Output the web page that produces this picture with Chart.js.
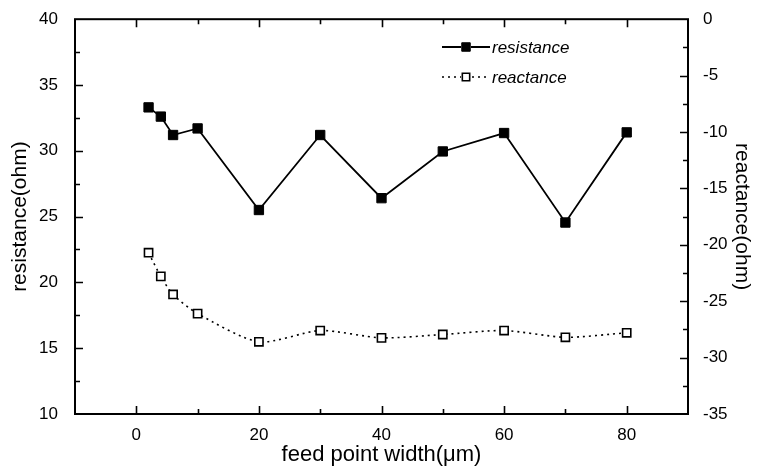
<!DOCTYPE html>
<html>
<head>
<meta charset="utf-8">
<title>resistance / reactance vs feed point width</title>
<script src="https://cdn.jsdelivr.net/npm/chart.js@4.4.1/dist/chart.umd.min.js"></script>
<style>
  html, body { margin: 0; padding: 0; background: #fff; }
  #wrap { width: 757px; height: 470px; }
</style>
</head>
<body>
<div id="wrap"><canvas id="chart" width="757" height="470"></canvas></div>
<script>
// data
const widths = [2, 4, 6, 10, 20, 30, 40, 50, 60, 70, 80];
const resistance = [33.3, 32.6, 31.2, 31.7, 25.5, 31.2, 26.4, 29.95, 31.35, 24.55, 31.4];
const reactance = [-20.7, -22.8, -24.4, -26.1, -28.6, -27.6, -28.25, -27.95, -27.6, -28.2, -27.8];

const xTicksLabeled = [0, 20, 40, 60, 80];
const leftRange = [10, 40];
const rightRange = [-35, 0];
const xRange = [-10, 90];

const FONT = "'Liberation Sans', Arial, sans-serif";

function pairs(xs, ys) {
  return xs.map((x, i) => ({ x: x, y: ys[i] }));
}

// frame + inward ticks (major and minor), drawn from the chart scales
const framePlugin = {
  id: 'frame',
  afterDraw(chart) {
    const ctx = chart.ctx;
    const a = chart.chartArea;
    const sx = chart.scales.x, sl = chart.scales.y, sr = chart.scales.y1;
    ctx.save();
    ctx.strokeStyle = '#000';
    ctx.lineWidth = 2;
    ctx.strokeRect(a.left, a.top, a.right - a.left, a.bottom - a.top);
    ctx.lineWidth = 1.6;
    ctx.beginPath();
    // x ticks every 10 on top and bottom
    for (let v = xRange[0] + 10; v < xRange[1]; v += 10) {
      const px = Math.round(sx.getPixelForValue(v)) + 0.5;
      const len = (v % 20 === 0) ? 8 : 5;
      ctx.moveTo(px, a.bottom); ctx.lineTo(px, a.bottom - len);
      ctx.moveTo(px, a.top); ctx.lineTo(px, a.top + len);
    }
    // left axis ticks every 2.5
    for (let v = leftRange[0] + 2.5; v < leftRange[1]; v += 2.5) {
      const py = Math.round(sl.getPixelForValue(v)) + 0.5;
      const len = (v % 5 === 0) ? 8 : 5;
      ctx.moveTo(a.left, py); ctx.lineTo(a.left + len, py);
    }
    // right axis ticks every 2.5
    for (let v = rightRange[0] + 2.5; v < rightRange[1]; v += 2.5) {
      const py = Math.round(sr.getPixelForValue(v)) + 0.5;
      const len = (v % 5 === 0) ? 8 : 5;
      ctx.moveTo(a.right, py); ctx.lineTo(a.right - len, py);
    }
    ctx.stroke();
    ctx.restore();
  }
};

// legend in the style of the original: line - marker - line, italic label
const legendPlugin = {
  id: 'lineLegend',
  afterDraw(chart) {
    const ctx = chart.ctx;
    const rows = [{ ds: 0, y: 47 }, { ds: 1, y: 77 }];
    ctx.save();
    rows.forEach(r => {
      const ds = chart.data.datasets[r.ds];
      const x0 = 442, x1 = 490, xm = 466;
      ctx.strokeStyle = '#000';
      ctx.lineWidth = ds.borderWidth;
      ctx.setLineDash(ds.borderDash || []);
      ctx.beginPath();
      ctx.moveTo(x0, r.y); ctx.lineTo(x1, r.y);
      ctx.stroke();
      ctx.setLineDash([]);
      ctx.fillStyle = ds.pointBackgroundColor;
      ctx.strokeStyle = ds.pointBorderColor;
      ctx.lineWidth = ds.pointBorderWidth;
      // clear under marker so the line does not show through the open square
      ctx.save();
      ctx.fillStyle = '#fff';
      ctx.fillRect(xm - 5, r.y - 5, 10, 10);
      ctx.restore();
      Chart.helpers.drawPoint(ctx, { pointStyle: 'rect', radius: ds.pointRadius - 0.6, rotation: 0, borderWidth: ds.pointBorderWidth }, xm, r.y);
      ctx.fillStyle = '#000';
      ctx.font = 'italic 17px ' + FONT;
      ctx.textBaseline = 'middle';
      ctx.textAlign = 'left';
      ctx.fillText(ds.label, x1 + 2, r.y + 1);
    });
    ctx.restore();
  }
};

new Chart(document.getElementById('chart'), {
  type: 'line',
  data: {
    datasets: [
      {
        label: 'resistance',
        data: pairs(widths, resistance),
        yAxisID: 'y',
        borderColor: '#000',
        borderWidth: 1.8,
        pointStyle: 'rect',
        pointRadius: 6.6,
        pointBackgroundColor: '#000',
        pointBorderColor: '#000',
        pointBorderWidth: 1,
        tension: 0,
        fill: false
      },
      {
        label: 'reactance',
        data: pairs(widths, reactance),
        yAxisID: 'y1',
        borderColor: '#000',
        borderWidth: 1.6,
        borderDash: [2, 4],
        pointStyle: 'rect',
        pointRadius: 5.8,
        pointBackgroundColor: '#fff',
        pointBorderColor: '#000',
        pointBorderWidth: 1.6,
        tension: 0.25,
        fill: false
      }
    ]
  },
  options: {
    responsive: false,
    animation: false,
    layout: { padding: { top: 12, right: 0, left: 0, bottom: 0 } },
    plugins: {
      legend: { display: false },
      tooltip: { enabled: false }
    },
    scales: {
      x: {
        type: 'linear',
        min: xRange[0],
        max: xRange[1],
        afterFit: s => { s.height = 56; },
        grid: { display: false },
        border: { display: false },
        ticks: {
          stepSize: 10,
          autoSkip: false,
          maxRotation: 0,
          padding: 3,
          color: '#000',
          font: { family: FONT, size: 17 },
          callback: v => xTicksLabeled.includes(v) ? String(v) : ''
        },
        title: {
          display: true,
          text: 'feed point width(\u03bcm)',
          color: '#000',
          font: { family: FONT, size: 22 },
          padding: { top: 0, bottom: 2 }
        }
      },
      y: {
        type: 'linear',
        position: 'left',
        min: leftRange[0],
        max: leftRange[1],
        afterFit: s => { s.width = 75; },
        grid: { display: false },
        border: { display: false },
        ticks: {
          stepSize: 5,
          padding: 9,
          color: '#000',
          font: { family: FONT, size: 17 }
        },
        title: {
          display: true,
          text: 'resistance(ohm)',
          color: '#000',
          font: { family: FONT, size: 21 },
          padding: { top: 8, bottom: 0 }
        }
      },
      y1: {
        type: 'linear',
        position: 'right',
        min: rightRange[0],
        max: rightRange[1],
        afterFit: s => { s.width = 69; },
        grid: { display: false },
        border: { display: false },
        ticks: {
          stepSize: 5,
          padding: 7,
          color: '#000',
          font: { family: FONT, size: 17 }
        },
        title: {
          display: true,
          text: 'reactance(ohm)',
          color: '#000',
          font: { family: FONT, size: 21 },
          padding: { top: 3, bottom: 0 }
        }
      }
    }
  },
  plugins: [framePlugin, legendPlugin]
});
</script>
</body>
</html>
